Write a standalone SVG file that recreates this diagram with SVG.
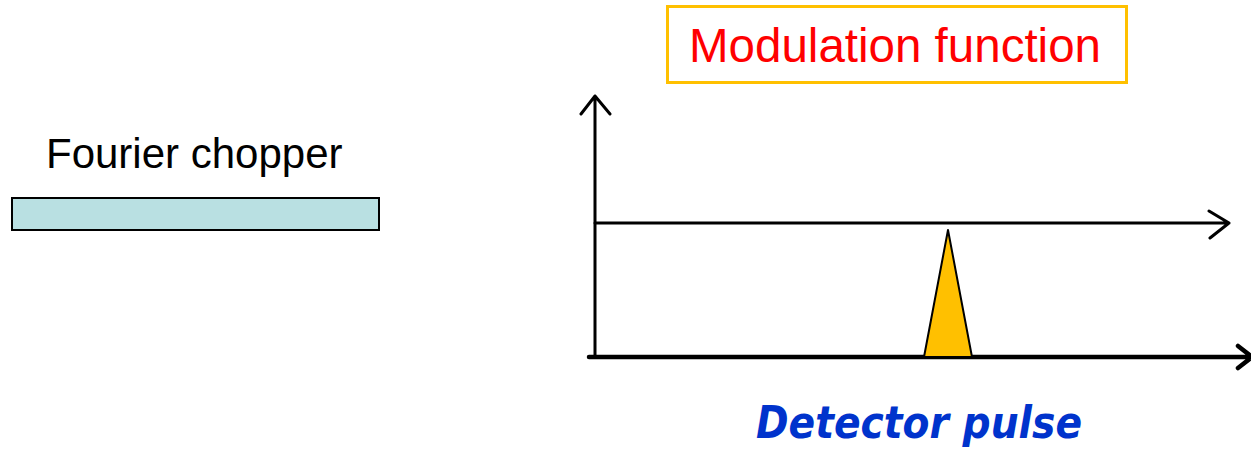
<svg xmlns="http://www.w3.org/2000/svg" width="1251" height="449" viewBox="0 0 1251 449">
<style>
.axis{fill:none;stroke:#000;stroke-linecap:round;stroke-linejoin:round}
.sans{font-family:"Liberation Sans",Arial,sans-serif}
</style>
<rect width="1251" height="449" fill="#fff"/>
<g id="title">
<rect x="667.5" y="6.5" width="459" height="76" fill="#fff" stroke="#FFC000" stroke-width="3"/>
<text class="sans" x="689" y="62" font-size="47.5" fill="#FF0000" textLength="412" lengthAdjust="spacingAndGlyphs">Modulation function</text>
</g>
<g id="chopper">
<text class="sans" x="46" y="168" font-size="42" fill="#000">Fourier chopper</text>
<rect x="12" y="198" width="367" height="32" fill="#B9E0E2" stroke="#000" stroke-width="2"/>
</g>
<g id="connectors">
<path class="axis" d="M595 357 L595 96 M581 114 L595 96 L610 114" stroke-width="3"/>
<path class="axis" d="M595 223 L1229 223 M1209 211 L1229 223 L1210 238" stroke-width="3"/>
<path class="axis" d="M589 357 L1250 357 M1238 346 L1252 357 L1238 368" stroke-width="4.5"/>
</g>
<g id="pulse">
<polygon points="948,230 924,357 972,357" fill="#FFC000" stroke="#000" stroke-width="2" stroke-linejoin="round"/>
</g>
<g id="detector-label">
<text x="756" y="438" font-family="'DejaVu Sans',sans-serif" font-weight="bold" font-style="italic" font-size="44" fill="#0033CC" textLength="326" lengthAdjust="spacingAndGlyphs">Detector pulse</text>
</g>
</svg>
